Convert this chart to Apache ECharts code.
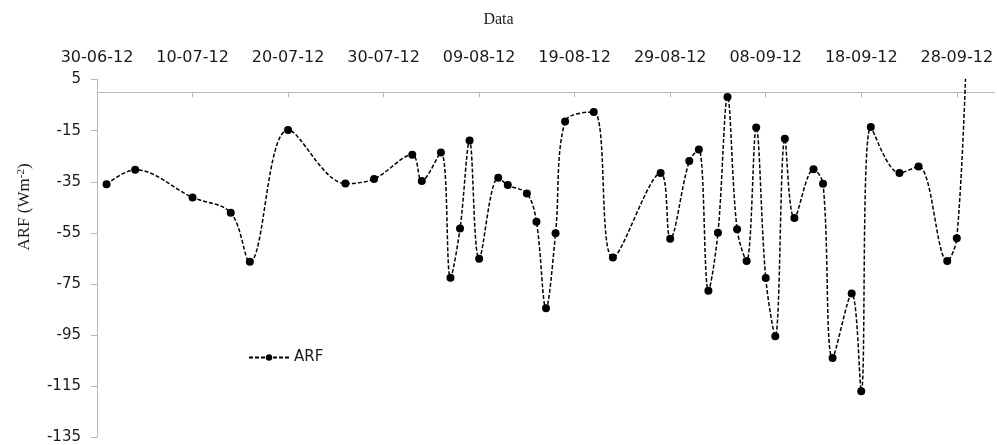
<!DOCTYPE html>
<html>
<head>
<meta charset="utf-8">
<script src="https://cdn.jsdelivr.net/npm/echarts@6/dist/echarts.min.js"></script>
<style>
  html, body { margin: 0; padding: 0; background: #fff; }
  #chart { width: 997px; height: 445px; }
</style>
</head>
<body>
<div id="chart"></div>
<script>
// Observation dates (dd-mm-yy) and aerosol radiative forcing values (W m-2)
const dates = ['01-07-12','04-07-12','10-07-12','14-07-12','16-07-12','20-07-12','26-07-12','29-07-12',
  '02-08-12','03-08-12','05-08-12','06-08-12','07-08-12','08-08-12','09-08-12','11-08-12','12-08-12',
  '14-08-12','15-08-12','16-08-12','17-08-12','18-08-12','21-08-12','23-08-12','28-08-12','29-08-12',
  '31-08-12','01-09-12','02-09-12','03-09-12','04-09-12','05-09-12','06-09-12','07-09-12','08-09-12',
  '09-09-12','10-09-12','11-09-12','13-09-12','14-09-12','15-09-12','17-09-12','18-09-12','19-09-12',
  '22-09-12','24-09-12','27-09-12','28-09-12','29-09-12'];
const arf = [-36.0,-30.3,-41.1,-47.1,-66.3,-14.7,-35.7,-33.9,
  -24.4,-34.7,-23.5,-72.5,-53.3,-18.9,-65.1,-33.4,-36.3,
  -39.6,-50.6,-84.5,-55.1,-11.4,-7.7,-64.6,-31.6,-57.3,
  -26.9,-22.4,-77.6,-54.9,-1.8,-53.6,-66.0,-13.8,-72.6,
  -95.4,-18.2,-49.2,-30.1,-35.8,-103.9,-78.7,-116.9,-13.6,
  -31.6,-29.0,-66.0,-57.1,15];

// Date axis tick labels, one every 10 days from the start date
const xTickLabels = ['30-06-12','10-07-12','20-07-12','30-07-12','09-08-12','19-08-12',
  '29-08-12','08-09-12','18-09-12','28-09-12'];
// Value axis tick labels
const yTickValues = [5, -15, -35, -55, -75, -95, -115, -135];

const DAY = 86400000;
function parseDate(s) {
  const [d, m, y] = s.split('-').map(Number);
  return Date.UTC(2000 + y, m - 1, d);
}
const origin = parseDate(xTickLabels[0]);
const dayOf = s => Math.round((parseDate(s) - origin) / DAY);
const tickDays = xTickLabels.map(dayOf);
const seriesData = dates.map((d, i) => [dayOf(d), arf[i]]);

const axisGray = '#b8b8b8';
const labelFont = { fontFamily: 'DejaVu Sans', fontSize: 15, color: '#1a1a1a' };

const chart = echarts.init(document.getElementById('chart'), null, { renderer: 'canvas' });
chart.setOption({
  animation: false,
  backgroundColor: '#fff',
  title: {
    text: 'Data',
    left: 'center',
    top: 12,
    padding: 0,
    textStyle: { fontFamily: 'Liberation Serif', fontSize: 16, fontWeight: 'normal', color: '#1a1a1a' }
  },
  legend: {
    data: ['ARF'],
    left: 248,
    top: 350,
    padding: 0,
    itemWidth: 40,
    itemHeight: 8,
    itemGap: 0,
    textStyle: Object.assign({}, labelFont, { padding: [0, 0, 0, 0] })
  },
  grid: { left: 97, right: 2, top: 79.5, bottom: 5, containLabel: false },
  xAxis: [
    {
      type: 'value',
      position: 'top',
      min: 0,
      max: 94,
      interval: 10,
      axisLine: { show: false, onZero: false },
      axisTick: { show: false },
      splitLine: { show: false },
      axisLabel: Object.assign({}, labelFont, {
        fontSize: 16,
        margin: 14,
        customValues: tickDays,
        formatter: v => xTickLabels[tickDays.indexOf(Math.round(v))] || ''
      })
    },
    {
      type: 'value',
      position: 'top',
      min: 0,
      max: 94,
      interval: 10,
      axisLine: { show: true, onZero: true, lineStyle: { color: axisGray, width: 1 } },
      axisTick: { show: true, inside: true, length: 5, customValues: tickDays.slice(1),
        lineStyle: { color: axisGray } },
      splitLine: { show: false },
      axisLabel: { show: false }
    }
  ],
  yAxis: {
    type: 'value',
    min: -135,
    max: 5,
    interval: 20,
    axisLine: { show: true, lineStyle: { color: axisGray, width: 1 } },
    axisTick: { show: true, length: 6, customValues: yTickValues, lineStyle: { color: axisGray } },
    splitLine: { show: false },
    axisLabel: Object.assign({}, labelFont, { margin: 16, customValues: yTickValues })
  },
  graphic: [{
    type: 'text',
    x: 25,
    y: 207,
    rotation: Math.PI / 2,
    style: {
      text: 'ARF (Wm{sup|-2})',
      fontFamily: 'Liberation Serif',
      fontSize: 17,
      fill: '#1a1a1a',
      align: 'center',
      verticalAlign: 'middle',
      rich: {
        sup: { fontFamily: 'Liberation Serif', fontSize: 11, fill: '#1a1a1a', verticalAlign: 'top', padding: [0, 0, 8, 0] }
      }
    }
  }],
  series: [{
    name: 'ARF',
    type: 'line',
    xAxisIndex: 0,
    data: seriesData,
    smooth: 0.35,
    clip: true,
    symbol: 'circle',
    symbolSize: 8,
    showAllSymbol: true,
    itemStyle: { color: '#000' },
    lineStyle: { color: '#000', width: 1.5, type: [4, 2] }
  }]
});
</script>
</body>
</html>
